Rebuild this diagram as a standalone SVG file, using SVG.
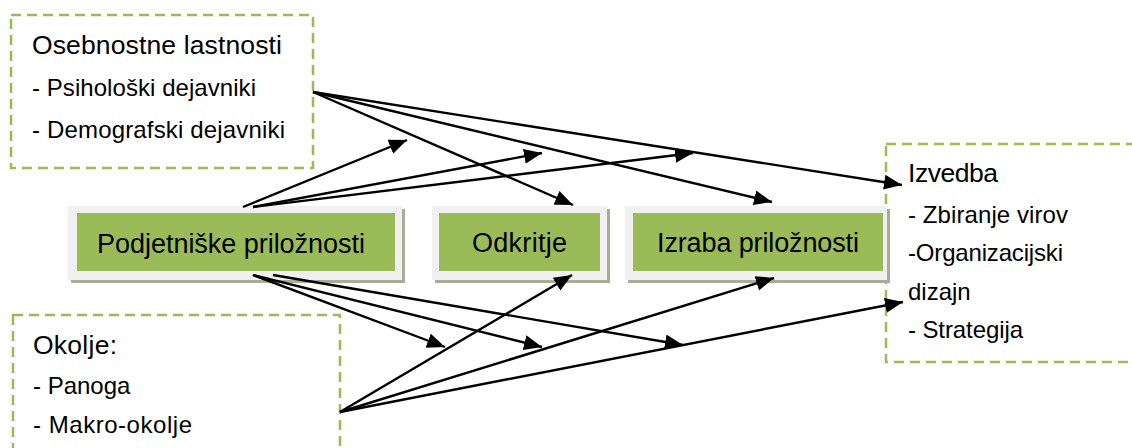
<svg xmlns="http://www.w3.org/2000/svg" width="1132" height="448" viewBox="0 0 1132 448">
  <style>
    .dash { fill: #ffffff; stroke: #9bbb59; stroke-width: 2.5; stroke-dasharray: 10 6; }
    .shadow { fill: #a7ad97; }
    .frame { fill: #f0f0f0; }
    .green { fill: #9bbb59; }
    text { font-family: "Liberation Sans", Arial, sans-serif; fill: #000000; }
    .head { font-size: 26.5px; }
    .body { font-size: 24px; }
    .node { font-size: 27px; }
    .conn line { stroke: #000000; stroke-width: 2.4; marker-end: url(#ah); }
  </style>
  <defs>
    <marker id="ah" markerUnits="userSpaceOnUse" markerWidth="19" markerHeight="16" refX="18" refY="7.5" orient="auto">
      <path d="M0,0 L18,7.5 L0,15 z" fill="#000000"/>
    </marker>
  </defs>
  <rect width="1132" height="448" fill="#ffffff"/>

  <g id="osebnostne">
    <rect class="dash" x="11" y="15" width="302" height="153"/>
    <text class="head" x="32" y="54" textLength="250">Osebnostne lastnosti</text>
    <text class="body" x="32" y="96" textLength="224">- Psihološki dejavniki</text>
    <text class="body" x="32" y="138" textLength="253">- Demografski dejavniki</text>
  </g>

  <g id="okolje">
    <rect class="dash" x="13" y="315" width="327" height="150"/>
    <text class="head" x="33" y="354" textLength="84">Okolje:</text>
    <text class="body" x="33" y="394">- Panoga</text>
    <text class="body" x="33" y="433" textLength="159">- Makro-okolje</text>
  </g>

  <g id="izvedba">
    <rect class="dash" x="886" y="144" width="260" height="218"/>
    <text class="head" x="908" y="182" textLength="90">Izvedba</text>
    <text class="body" x="908" y="223" textLength="160">- Zbiranje virov</text>
    <text class="body" x="908" y="261" textLength="155">-Organizacijski</text>
    <text class="body" x="908" y="300">dizajn</text>
    <text class="body" x="908" y="338" textLength="115">- Strategija</text>
  </g>

  <g id="podjetniske">
    <rect class="shadow" x="71" y="209" width="334" height="74"/>
    <rect class="frame" x="68" y="206" width="334" height="74"/>
    <rect class="green" x="77" y="213" width="318" height="58"/>
    <text class="node" x="97" y="253" textLength="268">Podjetniške priložnosti</text>
  </g>

  <g id="odkritje">
    <rect class="shadow" x="435" y="209" width="175" height="74"/>
    <rect class="frame" x="432" y="206" width="175" height="74"/>
    <rect class="green" x="439" y="213" width="161" height="58"/>
    <text class="node" x="472" y="252" textLength="95">Odkritje</text>
  </g>

  <g id="izraba">
    <rect class="shadow" x="628" y="209" width="262" height="74"/>
    <rect class="frame" x="625" y="206" width="262" height="74"/>
    <rect class="green" x="633" y="213" width="250" height="58"/>
    <text class="node" x="657" y="252" textLength="202">Izraba priložnosti</text>
  </g>

  <g id="connectors" class="conn">
    <line x1="313" y1="92" x2="573" y2="205"/>
    <line x1="313" y1="92" x2="772" y2="202"/>
    <line x1="313" y1="92" x2="902" y2="185"/>
    <line x1="243" y1="207" x2="407" y2="140"/>
    <line x1="253" y1="207" x2="542" y2="153"/>
    <line x1="253" y1="207" x2="693" y2="153"/>
    <line x1="253" y1="275" x2="445" y2="347"/>
    <line x1="253" y1="275" x2="542" y2="347"/>
    <line x1="273" y1="275" x2="683" y2="345"/>
    <line x1="340" y1="412" x2="572" y2="275"/>
    <line x1="340" y1="412" x2="774" y2="278"/>
    <line x1="340" y1="412" x2="903" y2="302"/>
  </g>
</svg>
